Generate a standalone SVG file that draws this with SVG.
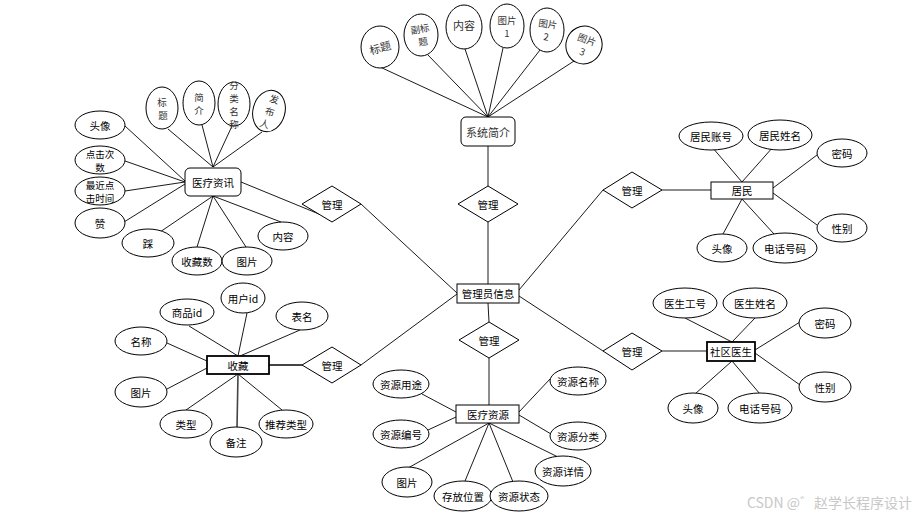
<svg xmlns="http://www.w3.org/2000/svg" width="915" height="517" viewBox="0 0 915 517">
<style>
.e{fill:#fff;stroke:#000;stroke-width:1}
.r{fill:#fff;stroke:#000;stroke-width:1}
.r2{fill:#fff;stroke:#000;stroke-width:1.8}
.d{fill:#fff;stroke:#000;stroke-width:1}
.t{font-family:"Noto Sans CJK SC","Noto Sans",sans-serif;font-size:10.5px;fill:#000;text-anchor:middle;dominant-baseline:central}
.s{font-family:"Noto Sans CJK SC","Liberation Serif",serif;font-size:11px;fill:#333;text-anchor:middle;dominant-baseline:central}
.m{font-size:9.5px}
.c line{stroke:#000;stroke-width:0.9}
</style>
<rect width="915" height="517" fill="#fff"/>
<g class="c" id="connectors">
<line x1="488" y1="117" x2="380" y2="67"/>
<line x1="488" y1="117" x2="427" y2="54"/>
<line x1="488" y1="117" x2="465" y2="49"/>
<line x1="488" y1="117" x2="503" y2="48"/>
<line x1="488" y1="117" x2="540" y2="50"/>
<line x1="488" y1="117" x2="574" y2="61"/>
<line x1="488" y1="146" x2="488" y2="186"/>
<line x1="488" y1="222" x2="488" y2="284"/>
<line x1="488" y1="303" x2="489" y2="322"/>
<line x1="489" y1="358" x2="489" y2="405"/>
<line x1="361" y1="204" x2="457" y2="293"/>
<line x1="361" y1="365" x2="457" y2="294"/>
<line x1="241" y1="182" x2="319" y2="214"/>
<line x1="269" y1="365" x2="302" y2="365" style="stroke-width:1.8;stroke:#444"/>
<line x1="519" y1="290" x2="603" y2="190"/>
<line x1="662" y1="190" x2="711" y2="190"/>
<line x1="519" y1="296" x2="603" y2="351"/>
<line x1="662" y1="351" x2="707" y2="351"/>
<line x1="125" y1="126" x2="185" y2="181"/>
<line x1="125" y1="161" x2="185" y2="182"/>
<line x1="125" y1="191" x2="185" y2="182"/>
<line x1="124" y1="222" x2="185" y2="184"/>
<line x1="160" y1="232" x2="213" y2="196"/>
<line x1="197" y1="247" x2="213" y2="196"/>
<line x1="246" y1="247" x2="213" y2="196"/>
<line x1="281" y1="222" x2="213" y2="196"/>
<line x1="168" y1="129" x2="213" y2="167"/>
<line x1="202" y1="125" x2="213" y2="167"/>
<line x1="232" y1="126" x2="213" y2="167"/>
<line x1="262" y1="132" x2="213" y2="167"/>
<line x1="189" y1="326" x2="238" y2="356"/>
<line x1="247" y1="313" x2="238" y2="356"/>
<line x1="300" y1="330" x2="240" y2="356"/>
<line x1="167" y1="343" x2="207" y2="361"/>
<line x1="167" y1="389" x2="207" y2="368"/>
<line x1="186" y1="410" x2="238" y2="374"/>
<line x1="237" y1="428" x2="238" y2="374" style="stroke-width:1.6;stroke:#444"/>
<line x1="282" y1="410" x2="238" y2="374"/>
<line x1="422" y1="394" x2="456" y2="412"/>
<line x1="428" y1="430" x2="456" y2="417"/>
<line x1="550" y1="379" x2="519" y2="412"/>
<line x1="551" y1="434" x2="519" y2="415"/>
<line x1="558" y1="457" x2="489" y2="423"/>
<line x1="408" y1="468" x2="489" y2="423"/>
<line x1="465" y1="481" x2="489" y2="423"/>
<line x1="513" y1="482" x2="489" y2="423"/>
<line x1="712" y1="147" x2="742" y2="182"/>
<line x1="773" y1="147" x2="742" y2="182"/>
<line x1="817" y1="155" x2="773" y2="188"/>
<line x1="817" y1="225" x2="773" y2="193"/>
<line x1="723" y1="234" x2="742" y2="199"/>
<line x1="774" y1="234" x2="742" y2="199"/>
<line x1="685" y1="318" x2="732" y2="342"/>
<line x1="755" y1="318" x2="732" y2="342"/>
<line x1="800" y1="322" x2="755" y2="350"/>
<line x1="800" y1="385" x2="755" y2="353"/>
<line x1="695" y1="394" x2="732" y2="361"/>
<line x1="760" y1="394" x2="732" y2="361"/>
</g>

<g id="xitongjianjie"><rect class="r" x="461" y="117" width="54" height="29" rx="5"/><text class="s" x="488" y="131.5">系统简介</text></g>
<g id="guanli-top"><polygon class="d" points="488,186 518,204 488,222 458,204"/><text class="t" x="488" y="204">管理</text></g>
<g id="guanliyuan"><rect class="r" x="457" y="284" width="62" height="19"/><text class="t" x="488" y="293.5">管理员信息</text></g>
<g id="guanli-bottom"><polygon class="d" points="489,322 519,340 489,358 459,340"/><text class="t" x="489" y="340">管理</text></g>
<g id="guanli-lt"><polygon class="d" points="332,186 361,204 332,222 302,204"/><text class="t" x="332" y="204">管理</text></g>
<g id="guanli-lb"><polygon class="d" points="332,347 361,365 332,383 302,365"/><text class="t" x="332" y="365">管理</text></g>
<g id="guanli-rt"><polygon class="d" points="632,172 662,190 632,208 603,190"/><text class="t" x="632" y="190">管理</text></g>
<g id="guanli-rb"><polygon class="d" points="632,333 662,351 632,370 603,351"/><text class="t" x="632" y="351">管理</text></g>

<g id="xt-biaoti"><ellipse class="e" cx="380" cy="47" rx="19" ry="21"/><text class="s" x="380" y="47" transform="rotate(-15 380 47)">标题</text></g>
<g id="xt-fubiaoti"><ellipse class="e" cx="421" cy="35" rx="17" ry="21"/><text class="s m" transform="rotate(-10 421 35)"><tspan x="421" y="28.5">副标</tspan><tspan x="422" y="41.5">题</tspan></text></g>
<g id="xt-neirong"><ellipse class="e" cx="464" cy="27" rx="18" ry="22"/><text class="s" x="464" y="25">内容</text></g>
<g id="xt-tupian1"><ellipse class="e" cx="507" cy="26" rx="17" ry="22"/><text class="s m"><tspan x="507" y="19.5">图片</tspan><tspan x="507" y="32.5">1</tspan></text></g>
<g id="xt-tupian2"><ellipse class="e" cx="547" cy="30" rx="17" ry="22"/><text class="s m" transform="rotate(8 547 30)"><tspan x="547" y="23.5">图片</tspan><tspan x="547" y="36.5">2</tspan></text></g>
<g id="xt-tupian3"><ellipse class="e" cx="584" cy="45" rx="18" ry="19" transform="rotate(20 584 45)"/><text class="s m" transform="rotate(20 584 45)"><tspan x="585" y="38.5">图片</tspan><tspan x="585" y="51.5">3</tspan></text></g>

<g id="yiliaozixun"><rect class="r" x="185" y="168" width="56" height="28" rx="5"/><text class="t" x="213" y="182">医疗资讯</text></g>
<g id="zx-touxiang"><ellipse class="e" cx="100" cy="125" rx="25" ry="14"/><text class="t" x="100" y="125">头像</text></g>
<g id="zx-dianji"><ellipse class="e" cx="100" cy="160" rx="25" ry="14"/><text class="t m"><tspan x="100" y="153.5">点击次</tspan><tspan x="100" y="166.5">数</tspan></text></g>
<g id="zx-zuijin"><ellipse class="e" cx="100" cy="191" rx="25" ry="14"/><text class="t m"><tspan x="100" y="184.5">最近点</tspan><tspan x="100" y="197.5">击时间</tspan></text></g>
<g id="zx-zan"><ellipse class="e" cx="100" cy="223" rx="25" ry="15"/><text class="t" x="100" y="223">赞</text></g>
<g id="zx-cai"><ellipse class="e" cx="148" cy="243" rx="26" ry="14"/><text class="t" x="148" y="243">踩</text></g>
<g id="zx-shoucangshu"><ellipse class="e" cx="197" cy="261" rx="25" ry="14"/><text class="t" x="197" y="261">收藏数</text></g>
<g id="zx-tupian"><ellipse class="e" cx="247" cy="261" rx="25" ry="14"/><text class="t" x="247" y="261">图片</text></g>
<g id="zx-neirong"><ellipse class="e" cx="283" cy="236" rx="25" ry="14"/><text class="t" x="283" y="236">内容</text></g>
<g id="zx-biaoti"><ellipse class="e" cx="162" cy="108" rx="16" ry="21"/><text class="s m"><tspan x="162" y="101.5">标</tspan><tspan x="163" y="114.5">题</tspan></text></g>
<g id="zx-jianjie"><ellipse class="e" cx="199" cy="103" rx="16" ry="22"/><text class="s m"><tspan x="199" y="96.5">简</tspan><tspan x="199" y="109.5">介</tspan></text></g>
<g id="zx-fenlei"><ellipse class="e" cx="234" cy="104" rx="16" ry="22"/><text class="s m"><tspan x="234" y="84.5">分</tspan><tspan x="234" y="97.5">类</tspan><tspan x="234" y="110.5">名</tspan><tspan x="234" y="123.5">称</tspan></text></g>
<g id="zx-faburen"><ellipse class="e" cx="269" cy="111" rx="16" ry="21" transform="rotate(15 269 111)"/><text class="s m" transform="rotate(15 269 111)"><tspan x="271" y="98">发</tspan><tspan x="270" y="111">布</tspan><tspan x="268" y="124">人</tspan></text></g>

<g id="shoucang"><rect class="r2" x="207" y="356" width="62" height="18"/><text class="t" x="238" y="365">收藏</text></g>
<g id="sc-shangpin"><ellipse class="e" cx="187" cy="312" rx="27" ry="13"/><text class="t" x="187" y="312">商品id</text></g>
<g id="sc-yonghu"><ellipse class="e" cx="243" cy="298" rx="22" ry="15"/><text class="t" x="243" y="298">用户id</text></g>
<g id="sc-biaoming"><ellipse class="e" cx="302" cy="316" rx="26" ry="14"/><text class="t" x="302" y="316">表名</text></g>
<g id="sc-mingcheng"><ellipse class="e" cx="141" cy="341" rx="26" ry="14"/><text class="t" x="141" y="341">名称</text></g>
<g id="sc-tupian"><ellipse class="e" cx="141" cy="392" rx="26" ry="15"/><text class="t" x="141" y="392">图片</text></g>
<g id="sc-leixing"><ellipse class="e" cx="186" cy="424" rx="26" ry="14"/><text class="t" x="186" y="424">类型</text></g>
<g id="sc-beizhu"><ellipse class="e" cx="236" cy="442" rx="26" ry="15"/><text class="t" x="236" y="442">备注</text></g>
<g id="sc-tuijian"><ellipse class="e" cx="286" cy="424" rx="27" ry="14"/><text class="t" x="286" y="424">推荐类型</text></g>

<g id="yiliaoziyuan"><rect class="r" x="456" y="405" width="63" height="18"/><text class="t" x="488" y="414">医疗资源</text></g>
<g id="zy-yongtu"><ellipse class="e" cx="401" cy="384" rx="28" ry="14"/><text class="t" x="401" y="384">资源用途</text></g>
<g id="zy-bianhao"><ellipse class="e" cx="401" cy="434" rx="28" ry="14"/><text class="t" x="401" y="434">资源编号</text></g>
<g id="zy-mingcheng"><ellipse class="e" cx="578" cy="381" rx="28" ry="14"/><text class="t" x="578" y="381">资源名称</text></g>
<g id="zy-fenlei"><ellipse class="e" cx="578" cy="436" rx="28" ry="14"/><text class="t" x="578" y="436">资源分类</text></g>
<g id="zy-xiangqing"><ellipse class="e" cx="563" cy="471" rx="28" ry="15"/><text class="t" x="563" y="471">资源详情</text></g>
<g id="zy-tupian"><ellipse class="e" cx="407" cy="482" rx="25" ry="15"/><text class="t" x="407" y="482">图片</text></g>
<g id="zy-cunfang"><ellipse class="e" cx="463" cy="496" rx="29" ry="15"/><text class="t" x="463" y="496">存放位置</text></g>
<g id="zy-zhuangtai"><ellipse class="e" cx="519" cy="496" rx="29" ry="15"/><text class="t" x="519" y="496">资源状态</text></g>

<g id="jumin"><rect class="r" x="711" y="182" width="62" height="17"/><text class="t" x="742" y="190.5">居民</text></g>
<g id="jm-zhanghao"><ellipse class="e" cx="711" cy="136" rx="32" ry="14"/><text class="t" x="711" y="136">居民账号</text></g>
<g id="jm-xingming"><ellipse class="e" cx="780" cy="135" rx="32" ry="15"/><text class="t" x="780" y="135">居民姓名</text></g>
<g id="jm-mima"><ellipse class="e" cx="842" cy="153" rx="25" ry="14"/><text class="t" x="842" y="153">密码</text></g>
<g id="jm-xingbie"><ellipse class="e" cx="842" cy="228" rx="25" ry="14"/><text class="t" x="842" y="228">性别</text></g>
<g id="jm-touxiang"><ellipse class="e" cx="722" cy="248" rx="25" ry="14"/><text class="t" x="722" y="248">头像</text></g>
<g id="jm-dianhua"><ellipse class="e" cx="785" cy="248" rx="32" ry="15"/><text class="t" x="785" y="248">电话号码</text></g>

<g id="shequyisheng"><rect class="r2" x="707" y="342" width="48" height="19"/><text class="t" x="731" y="351.5">社区医生</text></g>
<g id="ys-gonghao"><ellipse class="e" cx="685" cy="303" rx="32" ry="15"/><text class="t" x="685" y="303">医生工号</text></g>
<g id="ys-xingming"><ellipse class="e" cx="755" cy="303" rx="32" ry="15"/><text class="t" x="755" y="303">医生姓名</text></g>
<g id="ys-mima"><ellipse class="e" cx="825" cy="323" rx="26" ry="15"/><text class="t" x="825" y="323">密码</text></g>
<g id="ys-xingbie"><ellipse class="e" cx="825" cy="387" rx="26" ry="15"/><text class="t" x="825" y="387">性别</text></g>
<g id="ys-touxiang"><ellipse class="e" cx="693" cy="408" rx="25" ry="15"/><text class="t" x="693" y="408">头像</text></g>
<g id="ys-dianhua"><ellipse class="e" cx="760" cy="408" rx="32" ry="15"/><text class="t" x="760" y="408">电话号码</text></g>

<text x="912" y="502" style="font-family:'Noto Sans CJK SC','Liberation Sans',sans-serif;font-size:14px;fill:#c8c8c8;text-anchor:end;dominant-baseline:central">CSDN @゛赵学长程序设计</text>
</svg>
